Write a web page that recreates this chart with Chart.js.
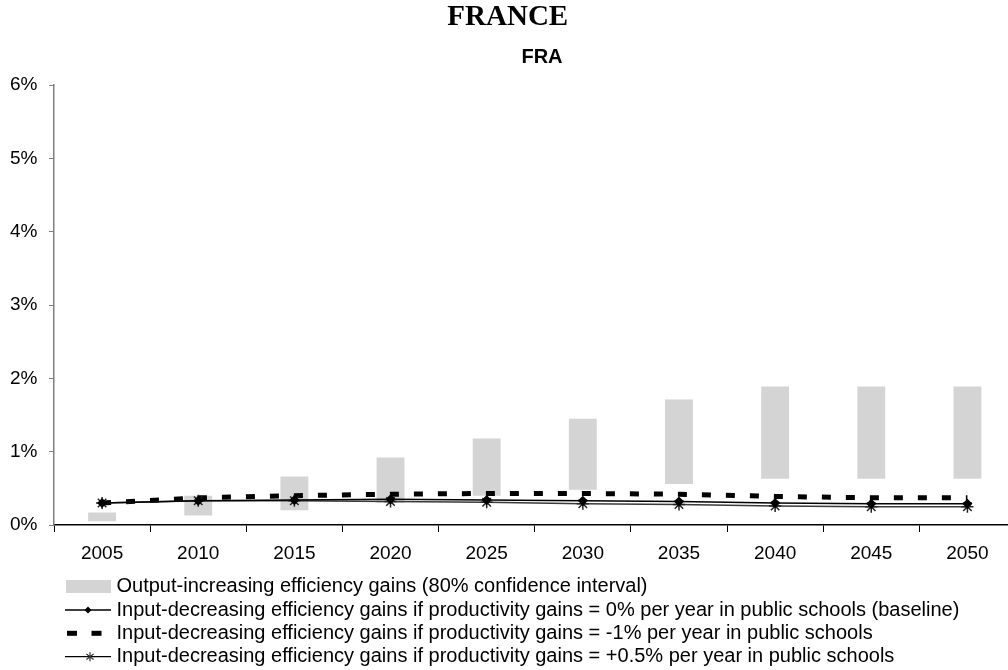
<!DOCTYPE html>
<html><head><meta charset="utf-8">
<script src="https://cdn.jsdelivr.net/npm/chart.js@4.4.1/dist/chart.umd.min.js"></script>
<style>
html,body{margin:0;padding:0;background:#fff;overflow:hidden;width:1008px;height:670px}
#wrap{width:1008px;height:670px;overflow:hidden;position:relative}
canvas{display:block}
</style></head>
<body><div id="wrap"><canvas id="c" width="1024" height="670" style="width:1024px;height:670px"></canvas></div>
<script>
const categories = ['2005','2010','2015','2020','2025','2030','2035','2040','2045','2050'];
const outputLow  = [0.05, 0.13, 0.20, 0.30, 0.40, 0.48, 0.56, 0.63, 0.63, 0.63];
const outputHigh = [0.17, 0.40, 0.66, 0.92, 1.18, 1.45, 1.71, 1.89, 1.89, 1.89];
const baseline   = [0.30, 0.33, 0.34, 0.35, 0.34, 0.33, 0.32, 0.30, 0.29, 0.29];
const minusOne   = [0.30, 0.37, 0.40, 0.42, 0.43, 0.43, 0.42, 0.39, 0.37, 0.37];
const plusHalf   = [0.30, 0.33, 0.33, 0.32, 0.31, 0.29, 0.28, 0.26, 0.25, 0.25];
const yTicks = [0, 1, 2, 3, 4, 5, 6];
const titleText = 'FRANCE';
const subtitleText = 'FRA';
const legendLabels = [
  'Output-increasing efficiency gains (80% confidence interval)',
  'Input-decreasing efficiency gains if productivity gains = 0% per year in public schools (baseline)',
  'Input-decreasing efficiency gains if productivity gains = -1% per year in public schools',
  'Input-decreasing efficiency gains if productivity gains = +0.5% per year in public schools'
];

function drawStar(ctx, x, y, r) {
  ctx.beginPath();
  ctx.moveTo(x, y - r); ctx.lineTo(x, y + r);
  ctx.moveTo(x - r * 0.8, y - r * 0.6); ctx.lineTo(x + r * 0.8, y + r * 0.6);
  ctx.moveTo(x - r * 0.8, y + r * 0.6); ctx.lineTo(x + r * 0.8, y - r * 0.6);
  ctx.stroke();
}

const extras = {
  id: 'extras',
  afterDraw(chart) {
    const ctx = chart.ctx;
    ctx.save();
    ctx.fillStyle = '#000';
    ctx.font = 'bold 20px "Liberation Sans", Arial, sans-serif';
    ctx.textAlign = 'center';
    ctx.textBaseline = 'middle';
    ctx.fillText(subtitleText, 542, 57);

    const rows = [586.5, 610, 633.3, 656.7];
    const sx = 66, ex = 111, mx = 88, tx = 116.5;
    ctx.textAlign = 'left';
    ctx.font = '20px "Liberation Sans", Arial, sans-serif';
    legendLabels.forEach((t, i) => {
      const y = rows[i];
      ctx.fillStyle = '#000';
      ctx.fillText(t, tx, y);
      ctx.strokeStyle = '#000';
      if (i === 0) {
        ctx.fillStyle = '#d4d4d4';
        ctx.fillRect(sx, y - 6.5, ex - sx, 13);
      } else if (i === 1) {
        ctx.lineWidth = 1.5;
        ctx.beginPath(); ctx.moveTo(sx - 1, y); ctx.lineTo(ex, y); ctx.stroke();
        ctx.fillStyle = '#000';
        ctx.beginPath(); ctx.moveTo(mx, y - 3.5); ctx.lineTo(mx + 3.5, y); ctx.lineTo(mx, y + 3.5); ctx.lineTo(mx - 3.5, y); ctx.closePath(); ctx.fill();
      } else if (i === 2) {
        ctx.fillStyle = '#000';
        ctx.fillRect(67, y - 2.5, 10, 5);
        ctx.fillRect(91.5, y - 2.5, 10, 5);
      } else {
        ctx.lineWidth = 1.2;
        ctx.beginPath(); ctx.moveTo(sx - 1, y); ctx.lineTo(ex, y); ctx.stroke();
        ctx.strokeStyle = '#333';
        drawStar(ctx, 90, y, 4.5);
      }
    });
    ctx.restore();
  }
};

const chart = new Chart(document.getElementById('c'), {
  type: 'bar',
  data: {
    labels: categories,
    datasets: [
      {
        type: 'bar',
        label: legendLabels[0],
        data: categories.map((c, i) => [outputLow[i], outputHigh[i]]),
        backgroundColor: '#d4d4d4',
        borderWidth: 0,
        barPercentage: 0.29,
        categoryPercentage: 1,
        order: 10
      },
      {
        type: 'line',
        label: legendLabels[2],
        data: minusOne,
        borderColor: '#000',
        borderWidth: 5,
        borderDash: [9, 15],
        borderCapStyle: 'butt',
        pointRadius: 0,
        tension: 0,
        order: 3
      },
      {
        type: 'line',
        label: legendLabels[3],
        data: plusHalf,
        borderColor: '#3a3a3a',
        borderWidth: 1.5,
        pointStyle: 'star',
        pointRadius: 6,
        pointBorderColor: '#222',
        pointBorderWidth: 1.5,
        pointBackgroundColor: '#222',
        tension: 0,
        order: 2
      },
      {
        type: 'line',
        label: legendLabels[1],
        data: baseline,
        borderColor: '#000',
        borderWidth: 1.5,
        pointStyle: 'rectRot',
        pointRadius: 4,
        pointBackgroundColor: '#000',
        pointBorderColor: '#000',
        tension: 0,
        order: 1
      }
    ]
  },
  options: {
    responsive: false,
    animation: false,
    layout: { padding: { top: 0, left: 0, right: 8.5, bottom: 105 } },
    plugins: {
      legend: { display: false },
      tooltip: { enabled: false },
      title: {
        display: true,
        text: titleText,
        color: '#000',
        font: { family: '"Liberation Serif", "Times New Roman", serif', size: 29, weight: 'bold' },
        padding: { top: 0.5, bottom: 49.7 }
      }
    },
    scales: {
      x: {
        offset: true,
        afterFit(scale) { scale.height = 40; },
        grid: { offset: true, drawOnChartArea: false, drawTicks: true, tickLength: 7, color: '#000', lineWidth: 1 },
        border: { display: true, color: '#000', width: 1.5 },
        ticks: { color: '#000', padding: 10.6, font: { family: '"Liberation Sans", Arial, sans-serif', size: 19 } }
      },
      y: {
        min: 0, max: 6,
        afterFit(scale) { scale.width = 54; },
        afterBuildTicks(scale) { scale.ticks = yTicks.map(v => ({ value: v })); },
        grid: { drawOnChartArea: false, drawTicks: true, tickLength: 5, color: '#808080', lineWidth: 1 },
        border: { display: true, color: '#808080', width: 1.5 },
        ticks: {
          color: '#000', padding: 11.5,
          font: { family: '"Liberation Sans", Arial, sans-serif', size: 19 },
          callback: v => v + '%'
        }
      }
    }
  },
  plugins: [extras]
});
</script>
</body></html>
